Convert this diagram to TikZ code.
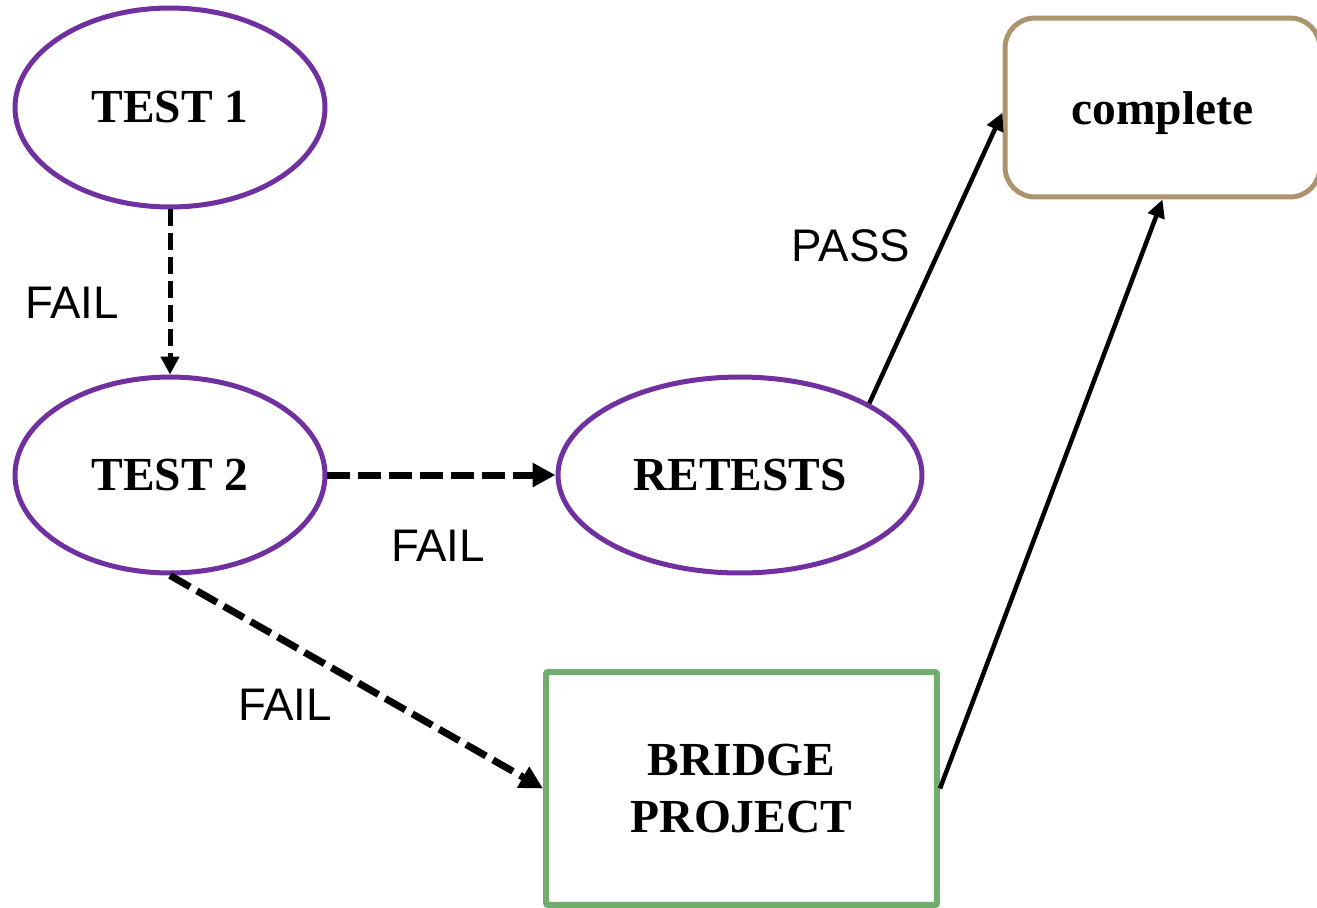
\documentclass[tikz,border=0pt]{standalone}
\usepackage{fontspec}
\setmainfont{Liberation Serif}
\newfontfamily\labelfont{Liberation Sans}
\usetikzlibrary{shapes.geometric,arrows.meta}
\definecolor{ovalpurple}{RGB}{112,48,160}
\definecolor{tanbox}{RGB}{172,148,110}
\definecolor{greenbox}{RGB}{112,173,110}
\tikzset{
  oval/.style={ellipse, draw=ovalpurple, line width=0.1cm, font=\fontsize{27}{32}\selectfont\bfseries, inner sep=0pt},
  donebox/.style={rectangle, rounded corners=0.6cm, draw=tanbox, line width=0.1cm, font=\fontsize{27}{32}\selectfont\bfseries, minimum width=6.3cm, minimum height=3.58cm},
  bridgebox/.style={rectangle, rounded corners=0.04cm, draw=greenbox, line width=0.12cm, font=\fontsize{27}{32}\selectfont\bfseries, align=center, minimum width=7.82cm, minimum height=4.66cm},
  faillink/.style={line width=0.1cm, dash pattern=on 0.34cm off 0.14cm, -{Triangle[length=0.36cm,width=0.36cm]}},
  failthick/.style={line width=0.14cm, dash pattern=on 0.46cm off 0.16cm, -{Triangle[length=0.46cm,width=0.46cm]}},
  passlink/.style={line width=0.09cm, -{Triangle[length=0.36cm,width=0.34cm]}},
  lbl/.style={font=\labelfont\fontsize{26}{30}\selectfont}
}
\begin{document}
\begin{tikzpicture}[x=0.02cm,y=-0.02cm]
\useasboundingbox (0,0) rectangle (1317,907);
\node[oval, minimum width=6.2cm, minimum height=3.98cm] (test1) at (170,107.5) {TEST 1};
\node[oval, minimum width=6.2cm, minimum height=3.92cm] (test2) at (170,475) {TEST 2};
\node[oval, minimum width=7.28cm, minimum height=3.92cm] (retests) at (740,475) {RETESTS};
\node[donebox] (complete) at (1162.5,107.5) {\raisebox{-0.12cm}[\height][\depth]{complete}};
\node[bridgebox] (bridge) at (741.5,788.5) {BRIDGE\\PROJECT};
\node[lbl] (fail1) at (72,303) {FAIL};
\node[lbl] (fail2) at (438,546) {FAIL};
\node[lbl] (fail3) at (285,705) {FAIL};
\node[lbl] (pass) at (851,246) {PASS};
\draw[faillink] (test1.south) -- (test2.north);
\draw[failthick] (test2.east) -- (retests.west);
\draw[failthick] (test2.south) -- (bridge.west);
\draw[passlink] (retests.29) -- ([yshift=-0.1cm]complete.west);
\draw[passlink] (bridge.east) -- (complete.south);
\end{tikzpicture}
\end{document}
